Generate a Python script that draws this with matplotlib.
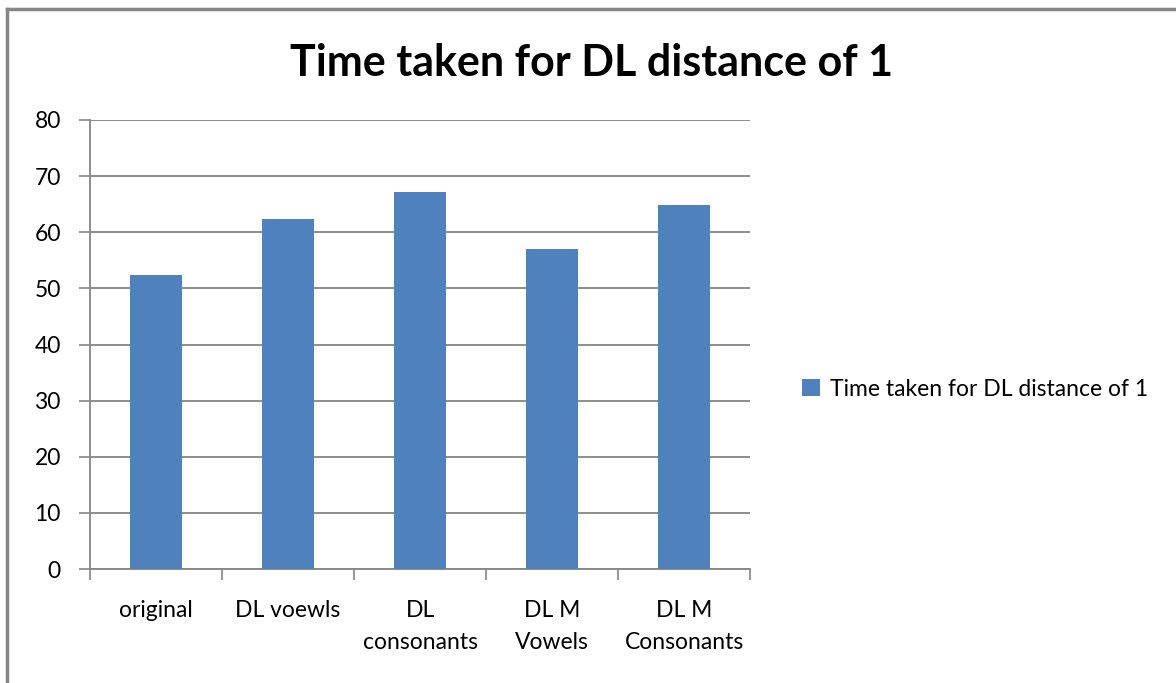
import matplotlib
matplotlib.use("Agg")
import matplotlib.pyplot as plt
from matplotlib.lines import Line2D

plt.rcParams['font.family'] = ['Lato', 'DejaVu Sans']

categories = ['original', 'DL voewls', 'DL\nconsonants', 'DL M\nVowels', 'DL M\nConsonants']
times = [52.3, 62.4, 67.2, 57.1, 64.9]
y_ticks = [0, 10, 20, 30, 40, 50, 60, 70, 80]
series_name = 'Time taken for DL distance of 1'
title = 'Time taken for DL distance of 1'

GRID = '#868686'
BAR = '#4f81bd'

fig = plt.figure(figsize=(11.76, 6.83), dpi=100)
ax = fig.add_axes([90 / 1176, 1 - 569 / 683, 660 / 1176, 449 / 683])

x = list(range(len(categories)))
ax.bar(x, times, width=0.4, color=BAR, label=series_name, zorder=3)

ax.set_xlim(-0.5, len(categories) - 0.5)
ax.set_ylim(0, 80)
ax.set_yticks(y_ticks)
ax.set_yticklabels([str(t) for t in y_ticks], fontsize=16.5)
ax.yaxis.grid(True, color=GRID, linewidth=1.3, zorder=0)

# category separators as ticks, labels centred between them
ax.set_xticks([i - 0.5 for i in range(len(categories) + 1)])
ax.set_xticklabels([])
ax.set_xticks(x, minor=True)
ax.set_xticklabels(categories, minor=True, fontsize=16.5, linespacing=1.65)
ax.tick_params(axis='x', which='minor', length=0, pad=22)
ax.tick_params(axis='x', which='major', length=8, color=GRID, width=1.2)
ax.tick_params(axis='y', length=8, color=GRID, width=1.2, pad=13)

for side in ('top', 'right'):
    ax.spines[side].set_visible(False)
for side in ('left', 'bottom'):
    ax.spines[side].set_color(GRID)
    ax.spines[side].set_linewidth(1.3)

fig.text(592 / 1176, 1 - 63 / 683, title, ha='center', va='center',
         fontsize=31, fontweight='bold')

fig.legend(loc='center left', bbox_to_anchor=(791 / 1176, 1 - 389 / 683),
           frameon=False, fontsize=16.5, handlelength=0.75, handleheight=0.75,
           handletextpad=0.45, borderpad=0)

# outer chart frame
fig.add_artist(Line2D([7 / 1176, 7 / 1176], [0, 1 - 9 / 683],
                      transform=fig.transFigure, color=GRID, linewidth=2.5))
fig.add_artist(Line2D([7 / 1176, 1], [1 - 9 / 683, 1 - 9 / 683],
                      transform=fig.transFigure, color=GRID, linewidth=2.5))

fig.savefig('out.png', dpi=100)
